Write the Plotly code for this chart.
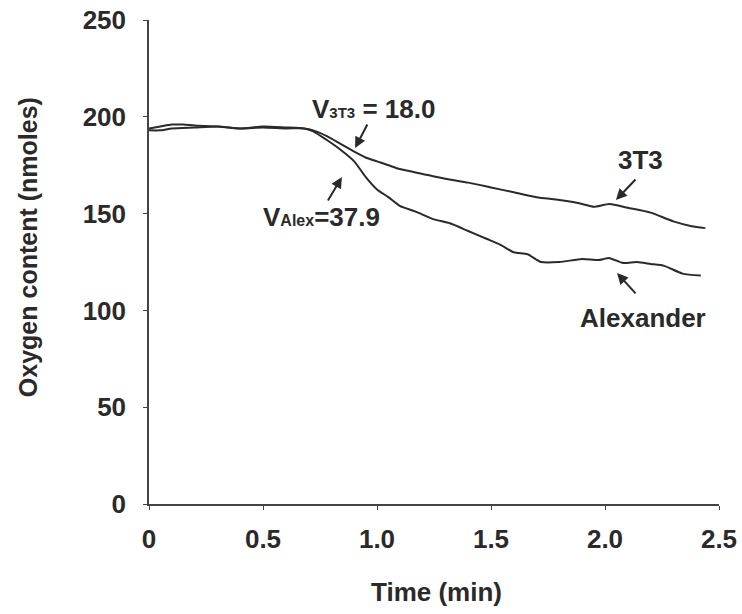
import plotly.graph_objects as go

# ---- data ----
t_3t3 = [0, 0.05, 0.1, 0.15, 0.2, 0.3, 0.4, 0.5, 0.6, 0.68, 0.72, 0.78, 0.84, 0.9,
         0.95, 1.0, 1.05, 1.1, 1.2, 1.3, 1.4, 1.5, 1.6, 1.7, 1.8, 1.9, 1.95, 2.02,
         2.1, 2.2, 2.3, 2.38, 2.44]
o2_3t3 = [194, 195, 196, 196, 195.5, 195, 194, 195, 194.5, 194, 193, 190, 186, 182,
          179, 177, 175, 173, 170.5, 168, 166, 163.5, 161, 158.5, 157, 155, 153.5, 155,
          153, 150.5, 146, 143.5, 142.5]

t_alex = [0, 0.05, 0.1, 0.2, 0.3, 0.4, 0.5, 0.6, 0.68, 0.72, 0.78, 0.84, 0.9, 0.95,
          1.0, 1.05, 1.1, 1.17, 1.25, 1.32, 1.4, 1.48, 1.54, 1.6, 1.66, 1.72, 1.8,
          1.9, 1.97, 2.02, 2.08, 2.14, 2.2, 2.26, 2.34, 2.42]
o2_alex = [193, 193, 194, 194.5, 195, 194, 194.5, 194, 194, 192.5, 188, 183, 177, 169,
           162.5, 158.5, 154, 151, 147, 145, 141, 137, 134, 130, 129, 125, 125,
           126.5, 126, 127, 124.5, 125, 124, 123, 119, 118]

x_tickvals = [0, 0.5, 1.0, 1.5, 2.0, 2.5]
x_ticktext = ["0", "0.5", "1.0", "1.5", "2.0", "2.5"]
y_tickvals = [0, 50, 100, 150, 200, 250]
y_ticktext = ["0", "50", "100", "150", "200", "250"]

INK = "#2a2a2a"
FONT = "Liberation Sans, Arial, sans-serif"

fig = go.Figure()
fig.add_trace(go.Scatter(x=t_3t3, y=o2_3t3, mode="lines", name="3T3",
                         line=dict(color=INK, width=2, shape="spline", smoothing=0.6)))
fig.add_trace(go.Scatter(x=t_alex, y=o2_alex, mode="lines", name="Alexander",
                         line=dict(color=INK, width=2, shape="spline", smoothing=0.6)))

def label(x, y, text, size=26):
    fig.add_annotation(x=x, y=y, xref="x", yref="y", text=text, showarrow=False,
                       xanchor="center", yanchor="middle",
                       font=dict(family=FONT, size=size, color=INK))

def arrow(x, y, ax, ay):
    fig.add_annotation(x=x, y=y, ax=ax, ay=ay, xref="x", yref="y", axref="x", ayref="y",
                       text="", showarrow=True, arrowhead=2, arrowsize=1.1,
                       arrowwidth=2, arrowcolor=INK)

label(0.985, 204, "<b>V<span style='font-size:15px'>3T3</span> = 18.0</b>")
arrow(0.904, 183.9, 0.961, 196.8)
label(0.755, 148, "<b>V<span style='font-size:16px'>Alex</span>=37.9</b>")
arrow(0.846, 168.9, 0.781, 156)
label(2.155, 177.5, "<b>3T3</b>")
arrow(2.048, 157, 2.14, 168.4)
label(2.167, 96, "<b>Alexander</b>")
arrow(2.053, 119.3, 2.14, 108)

# axis titles
fig.add_annotation(x=-0.212, y=0.531, xref="paper", yref="paper",
                   xanchor="center", yanchor="middle",
                   text="<b>Oxygen content (nmoles)</b>", textangle=-90, showarrow=False,
                   font=dict(family=FONT, size=25, color=INK))
fig.add_annotation(x=0.505, y=-0.182, xref="paper", yref="paper",
                   xanchor="center", yanchor="middle",
                   text="<b>Time (min)</b>", showarrow=False,
                   font=dict(family=FONT, size=26, color=INK))

fig.update_xaxes(range=[0, 2.5], tickvals=x_tickvals, ticktext=x_ticktext,
                 showgrid=False, zeroline=False, showline=True, linecolor="#444",
                 linewidth=1.5, ticks="outside", ticklen=4, tickcolor="#444",
                 tickfont=dict(family=FONT, size=26, color=INK, weight="bold"),
                 ticklabelstandoff=7)
fig.update_yaxes(range=[0, 250], tickvals=y_tickvals, ticktext=y_ticktext,
                 showgrid=False, zeroline=False, showline=True, linecolor="#444",
                 linewidth=1.5, ticks="outside", ticklen=4, tickcolor="#444",
                 tickfont=dict(family=FONT, size=26, color=INK, weight="bold"),
                 ticklabelstandoff=12)

fig.update_layout(width=742, height=614, showlegend=False,
                  margin=dict(l=149, r=23, t=20, b=110, autoexpand=False),
                  plot_bgcolor="white", paper_bgcolor="white")

fig.write_html("out.html", config={"displayModeBar": False},
               post_script="document.body.style.margin='0';document.body.style.overflow='hidden';")
